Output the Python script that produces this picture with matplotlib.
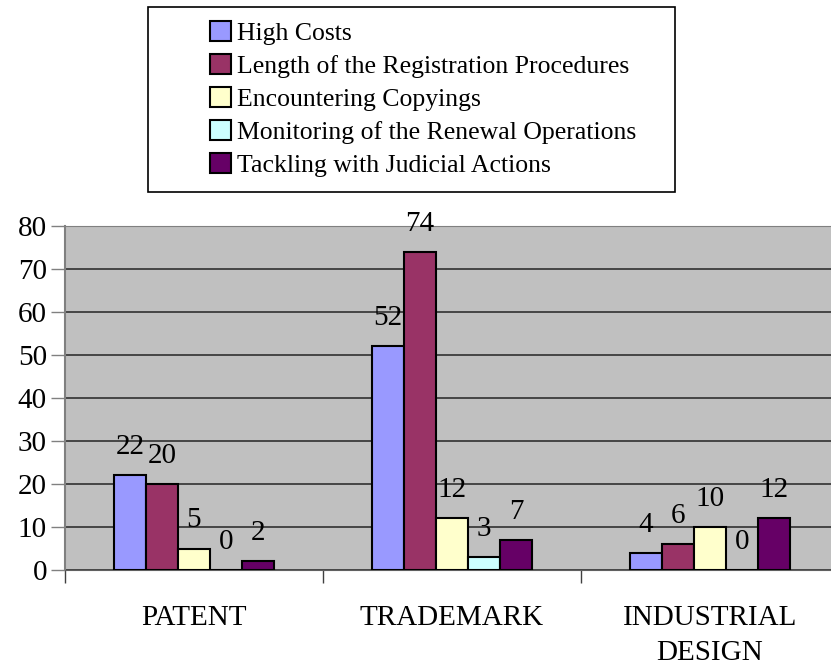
import numpy as np
import matplotlib
matplotlib.use("Agg")
import matplotlib.pyplot as plt
from matplotlib.patches import Rectangle

plt.rcParams['font.family'] = ['Liberation Serif', 'DejaVu Serif']

categories = ['PATENT', 'TRADEMARK', 'INDUSTRIAL\nDESIGN']
series_names = ['High Costs',
                'Length of the Registration Procedures',
                'Encountering Copyings',
                'Monitoring of the Renewal Operations',
                'Tackling with Judicial Actions']
values = [
    [22, 52, 4],
    [20, 74, 6],
    [5, 12, 10],
    [0, 3, 0],
    [2, 7, 12],
]
colors = ['#9999FF', '#993366', '#FFFFCC', '#CCFFFF', '#660066']

W, H = 831, 668
fig = plt.figure(figsize=(W / 100, H / 100), dpi=100)
ax = fig.add_axes([65 / W, (H - 570) / H, (W - 65) / W, (570 - 226) / H])
ax.set_facecolor('#C0C0C0')

x = np.arange(len(categories))
bw = 0.124
for i, (name, vals, c) in enumerate(zip(series_names, values, colors)):
    xs = x + (i - 2) * bw
    ax.bar(xs, vals, bw, color=c, edgecolor='black', linewidth=1.5, label=name, zorder=3)
    for xi, v in zip(xs, vals):
        ax.annotate(str(v), (xi, v), xytext=(0, 11), textcoords='offset points',
                    ha='center', va='bottom', fontsize=21)

ax.set_ylim(0, 80)
ax.set_xlim(-0.5, -0.5 + (W - 65) / 258)
ax.set_yticks(range(0, 81, 10))
ax.tick_params(axis='y', labelsize=21, length=10, width=1, color='#808080', pad=3)
ax.yaxis.grid(True, color='#303030', linewidth=1.2, zorder=1)
ax.set_axisbelow(True)

ax.set_xticks(x)
ax.set_xticklabels(categories, fontsize=21, linespacing=1.45)
ax.tick_params(axis='x', which='major', length=0, pad=25)
ax.set_xticks([-0.5, 0.5, 1.5], minor=True)
ax.tick_params(axis='x', which='minor', length=9, width=1, color='#404040')

ax.spines['top'].set_color('#808080')
ax.spines['left'].set_color('#808080')
ax.spines['left'].set_linewidth(1.5)
ax.spines['bottom'].set_color('#606060')
ax.spines['right'].set_visible(False)

# legend box drawn separately, legend itself frameless
fig.patches.append(Rectangle((148 / W, 1 - 192 / H), (675 - 148) / W, (192 - 7) / H,
                             transform=fig.transFigure, facecolor='white',
                             edgecolor='black', linewidth=1.2))
fig.legend(loc='upper left', bbox_to_anchor=(210 / W, 1 - 21 / H), frameon=False,
           fontsize=18.5, handlelength=0.8, handleheight=0.8, handletextpad=0.25,
           labelspacing=0.36, borderpad=0, borderaxespad=0)

fig.savefig('out.png', dpi=100)
